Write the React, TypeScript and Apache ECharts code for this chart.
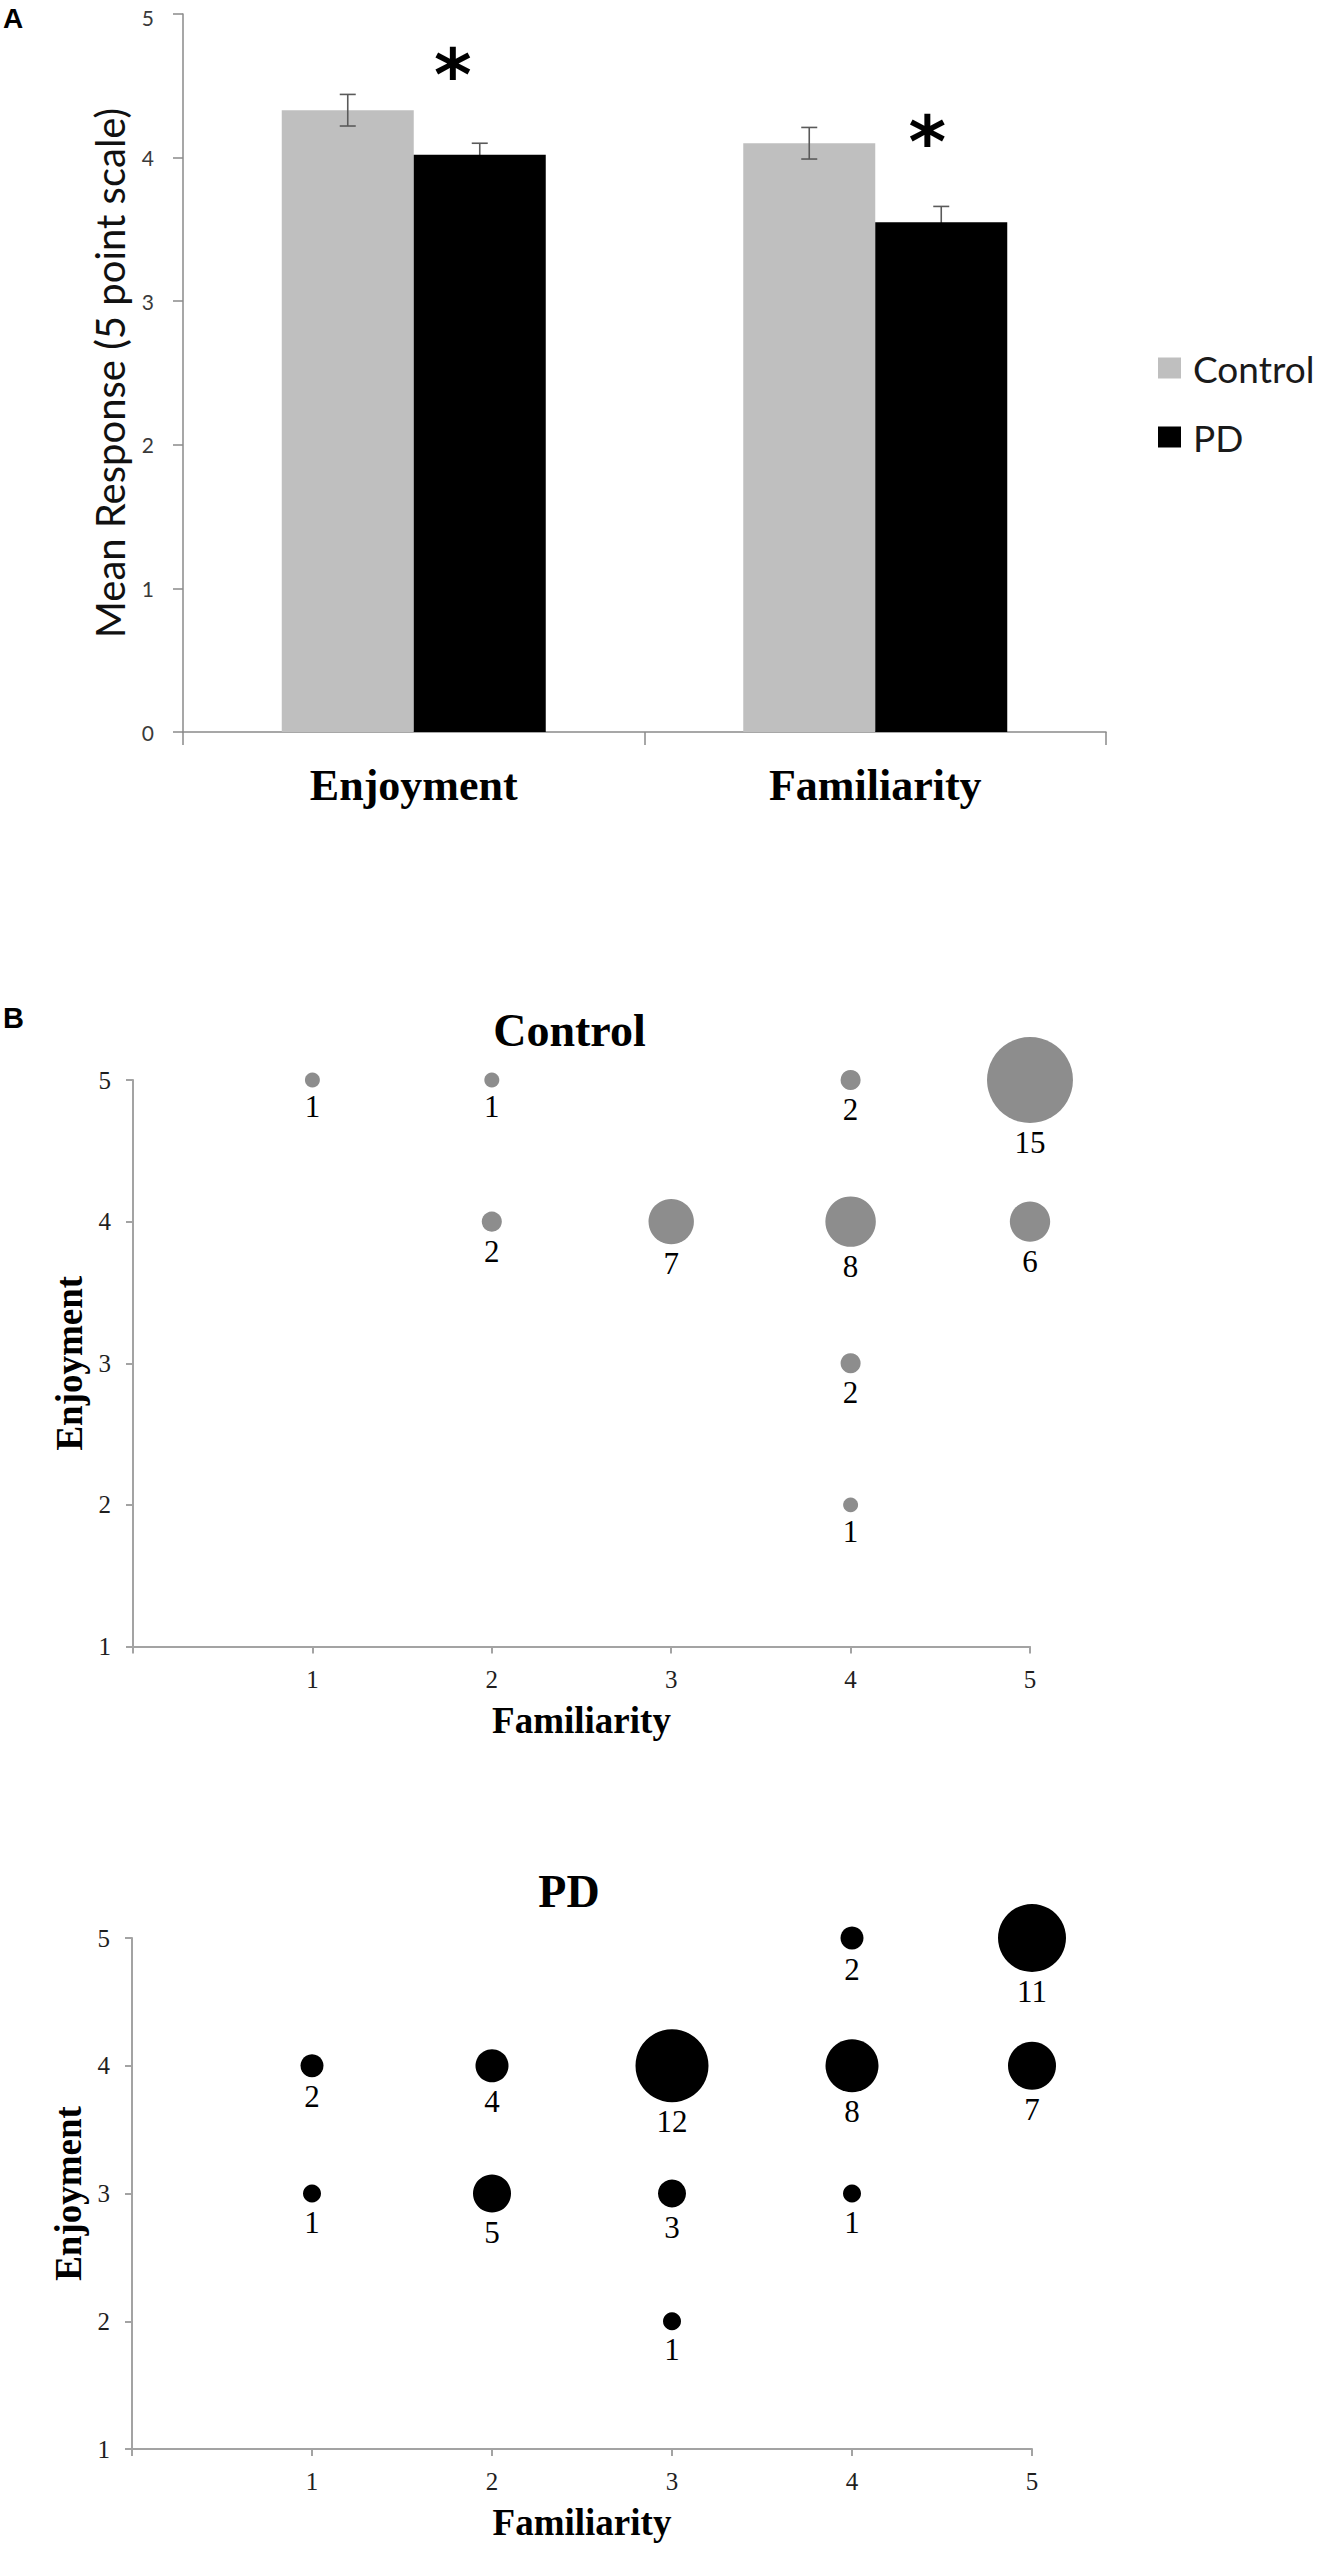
import React, { useEffect, useRef } from 'react';
import * as echarts from 'echarts';

// ---- Panel A: bar chart data ----
const barCategories = ['Enjoyment', 'Familiarity'];
const controlMeans = [4.33, 4.1];
const pdMeans = [4.02, 3.55];
const controlErrors = [0.11, 0.11];
const pdErrors = [0.08, 0.11];
const significanceMarks = ['*', '*'];
const barTicks = [0, 1, 2, 3, 4, 5];

// ---- Panel B: bubble data (Familiarity, Enjoyment, count) ----
const controlFamiliarity = [1, 2, 4, 5, 2, 3, 4, 5, 4, 4];
const controlEnjoyment = [5, 5, 5, 5, 4, 4, 4, 4, 3, 2];
const controlCounts = [1, 1, 2, 15, 2, 7, 8, 6, 2, 1];

const pdFamiliarity = [4, 5, 1, 2, 3, 4, 5, 1, 2, 3, 4, 3];
const pdEnjoyment = [5, 5, 4, 4, 4, 4, 4, 3, 3, 3, 3, 2];
const pdCounts = [2, 11, 2, 4, 12, 8, 7, 1, 5, 3, 1, 1];

// layout constants (not data)
const BAR_WIDTH = 132;
const MARK_NUDGE_X = [-27, -14];

export default function App() {
  const ref = useRef<HTMLDivElement>(null);

  useEffect(() => {
    document.body.style.margin = '0';
    const chart = echarts.init(ref.current as HTMLDivElement, null, { renderer: 'svg' });

    const errorRender = (offset: number) => (params: any, api: any) => {
      const cat = api.value(0);
      const mean = api.value(1);
      const err = api.value(2);
      const top = api.coord([cat, mean + err]);
      const bot = api.coord([cat, mean - err]);
      const x = top[0] + offset;
      const style = { stroke: '#5a5a5a', lineWidth: 1.6 };
      return {
        type: 'group',
        children: [
          { type: 'line', shape: { x1: x, y1: top[1], x2: x, y2: bot[1] }, style },
          { type: 'line', shape: { x1: x - 8, y1: top[1], x2: x + 8, y2: top[1] }, style },
          { type: 'line', shape: { x1: x - 8, y1: bot[1], x2: x + 8, y2: bot[1] }, style },
        ],
      };
    };

    const scatterAxisLine = { show: true, lineStyle: { color: '#a3a3a3', width: 2 } };
    const scatterTick = { show: true, length: 7, lineStyle: { color: '#a3a3a3', width: 2 } };
    const scatterTickLabel = {
      fontFamily: 'Liberation Serif',
      fontSize: 25,
      color: '#1f1f1f',
    };
    const scatterName = {
      fontFamily: 'Liberation Serif',
      fontWeight: 'bold',
      fontSize: 37,
      color: '#000',
    };
    const bubbleLabel = {
      show: true,
      position: 'bottom',
      distance: 4,
      formatter: (p: any) => String(p.data[2]),
      fontFamily: 'Liberation Serif',
      fontSize: 31,
      color: '#000',
    };

    const scatterX = (gridIndex: number) => ({
      type: 'value',
      gridIndex,
      min: 0,
      max: 5,
      interval: 1,
      splitLine: { show: false },
      axisLine: { ...scatterAxisLine, onZero: false },
      axisTick: scatterTick,
      axisLabel: {
        ...scatterTickLabel,
        margin: 20,
        formatter: (v: number) => (v === 0 ? '' : String(v)),
      },
      name: 'Familiarity',
      nameLocation: 'middle',
      nameGap: 55,
      nameTextStyle: scatterName,
    });

    const scatterY = (gridIndex: number) => ({
      type: 'value',
      gridIndex,
      min: 1,
      max: 5,
      interval: 1,
      splitLine: { show: false },
      axisLine: { ...scatterAxisLine, onZero: false },
      axisTick: scatterTick,
      axisLabel: { ...scatterTickLabel, margin: 22 },
      name: 'Enjoyment',
      nameLocation: 'middle',
      nameGap: 44,
      nameTextStyle: scatterName,
    });

    const topTick = barTicks[barTicks.length - 1];

    const option: any = {
      animation: false,
      backgroundColor: '#ffffff',
      grid: [
        { left: 183, top: 10.5, width: 923, height: 721.5 },
        { left: 133, top: 1080, width: 897, height: 566.5 },
        { left: 132, top: 1938, width: 900, height: 511 },
      ],
      legend: {
        data: ['Control', 'PD'],
        orient: 'vertical',
        left: 1158,
        top: 348,
        padding: 0,
        icon: 'rect',
        itemWidth: 23,
        itemHeight: 21,
        itemGap: 29,
        selectedMode: false,
        textStyle: {
          fontFamily: 'Lato',
          fontSize: 37,
          lineHeight: 40,
          color: '#1a1a1a',
          padding: [0, 0, 0, 7],
        },
      },
      xAxis: [
        {
          type: 'category',
          gridIndex: 0,
          data: barCategories,
          axisLine: { show: true, lineStyle: { color: '#8a8a8a', width: 1.5 } },
          axisTick: { show: true, length: 13, lineStyle: { color: '#8a8a8a', width: 1.5 } },
          axisLabel: {
            margin: 31,
            fontFamily: 'Liberation Serif',
            fontWeight: 'bold',
            fontSize: 44,
            color: '#000',
          },
        },
        scatterX(1),
        scatterX(2),
      ],
      yAxis: [
        {
          type: 'value',
          gridIndex: 0,
          min: barTicks[0],
          max: topTick,
          interval: 1,
          splitLine: { show: false },
          axisLine: { show: true, lineStyle: { color: '#8a8a8a', width: 1.5 } },
          axisTick: { show: true, length: 10, lineStyle: { color: '#8a8a8a', width: 1.5 } },
          axisLabel: {
            margin: 29,
            fontFamily: 'Lato',
            fontSize: 21,
            lineHeight: 21,
            color: '#3a3a3a',
            formatter: (v: number) => (v === topTick ? `{top|${v}}` : String(v)),
            rich: {
              top: {
                fontFamily: 'Lato',
                fontSize: 21,
                lineHeight: 21,
                color: '#3a3a3a',
                padding: [7, 0, 0, 0],
              },
            },
          },
          name: 'Mean Response (5 point scale)',
          nameLocation: 'middle',
          nameGap: 53,
          nameTextStyle: { fontFamily: 'Lato', fontSize: 40, color: '#111' },
        },
        scatterY(1),
        scatterY(2),
      ],
      graphic: [
        {
          type: 'text',
          x: 3,
          y: 18,
          style: {
            text: 'A',
            fontFamily: 'Liberation Sans',
            fontWeight: 'bold',
            fontSize: 28,
            fill: '#000',
            align: 'left',
            verticalAlign: 'middle',
            textAlign: 'left',
            textVerticalAlign: 'middle',
          },
        },
        {
          type: 'text',
          x: 3,
          y: 1017.5,
          style: {
            text: 'B',
            fontFamily: 'Liberation Sans',
            fontWeight: 'bold',
            fontSize: 29,
            fill: '#000',
            align: 'left',
            verticalAlign: 'middle',
            textAlign: 'left',
            textVerticalAlign: 'middle',
          },
        },
        {
          type: 'text',
          x: 569.5,
          y: 1030,
          style: {
            text: 'Control',
            fontFamily: 'Liberation Serif',
            fontWeight: 'bold',
            fontSize: 46,
            fill: '#000',
            align: 'center',
            verticalAlign: 'middle',
            textAlign: 'center',
            textVerticalAlign: 'middle',
          },
        },
        {
          type: 'text',
          x: 569,
          y: 1891,
          style: {
            text: 'PD',
            fontFamily: 'Liberation Serif',
            fontWeight: 'bold',
            fontSize: 46,
            fill: '#000',
            align: 'center',
            verticalAlign: 'middle',
            textAlign: 'center',
            textVerticalAlign: 'middle',
          },
        },
      ],
      series: [
        {
          name: 'Control',
          type: 'bar',
          xAxisIndex: 0,
          yAxisIndex: 0,
          data: controlMeans,
          barWidth: BAR_WIDTH,
          barGap: '0%',
          itemStyle: { color: '#bfbfbf' },
          z: 2,
        },
        {
          name: 'PD',
          type: 'bar',
          xAxisIndex: 0,
          yAxisIndex: 0,
          data: pdMeans.map((v, i) => ({
            value: v,
            label: { offset: [MARK_NUDGE_X[i], 0] },
          })),
          barWidth: BAR_WIDTH,
          barGap: '0%',
          itemStyle: { color: '#000000' },
          z: 2,
          label: {
            show: true,
            position: 'top',
            distance: 44,
            formatter: (p: any) => significanceMarks[p.dataIndex],
            fontFamily: 'DejaVu Sans',
            fontWeight: 'bold',
            fontSize: 72,
            lineHeight: 72,
            color: '#000',
          },
        },
        {
          name: 'Control error',
          type: 'custom',
          xAxisIndex: 0,
          yAxisIndex: 0,
          renderItem: errorRender(-BAR_WIDTH / 2),
          data: controlMeans.map((m, i) => [i, m, controlErrors[i]]),
          encode: { x: 0, y: 1 },
          z: 3,
          silent: true,
        },
        {
          name: 'PD error',
          type: 'custom',
          xAxisIndex: 0,
          yAxisIndex: 0,
          renderItem: errorRender(BAR_WIDTH / 2),
          data: pdMeans.map((m, i) => [i, m, pdErrors[i]]),
          encode: { x: 0, y: 1 },
          z: 1,
          silent: true,
        },
        {
          name: 'Control bubbles',
          type: 'scatter',
          xAxisIndex: 1,
          yAxisIndex: 1,
          clip: false,
          data: controlFamiliarity.map((f, i) => [f, controlEnjoyment[i], controlCounts[i]]),
          symbolSize: (d: number[]) => 9.9 + 5.07 * d[2],
          itemStyle: { color: '#8d8d8d', opacity: 1 },
          label: bubbleLabel,
        },
        {
          name: 'PD bubbles',
          type: 'scatter',
          xAxisIndex: 2,
          yAxisIndex: 2,
          clip: false,
          data: pdFamiliarity.map((f, i) => [f, pdEnjoyment[i], pdCounts[i]]),
          symbolSize: (d: number[]) => 13 + 5 * d[2],
          itemStyle: { color: '#000000', opacity: 1 },
          label: bubbleLabel,
        },
      ],
    };

    chart.setOption(option);
    return () => chart.dispose();
  }, []);

  return <div ref={ref} style={{ width: 1333, height: 2550, background: '#fff' }} />;
}
